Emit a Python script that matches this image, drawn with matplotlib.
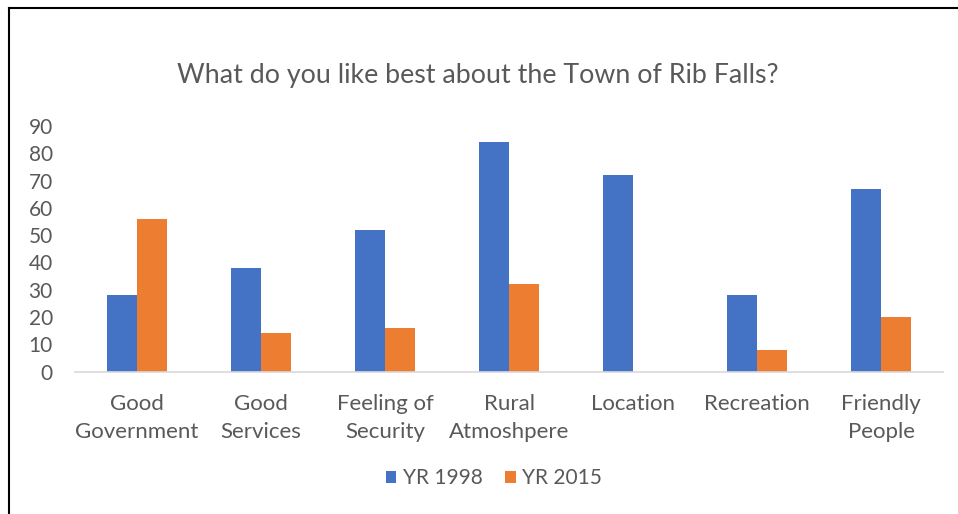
import matplotlib.pyplot as plt
from matplotlib.lines import Line2D
import numpy as np

# Data
categories = ['Good\nGovernment', 'Good\nServices', 'Feeling of\nSecurity', 'Rural\nAtmoshpere',
              'Location', 'Recreation', 'Friendly\nPeople']
yr_1998 = [28, 38, 52, 84, 72, 28, 67]
yr_2015 = [56, 14, 16, 32, 0, 8, 20]
y_ticks = [0, 10, 20, 30, 40, 50, 60, 70, 80, 90]

plt.rcParams['font.family'] = ['Lato', 'DejaVu Sans']
text_grey = '#595959'

W, H = 958, 514
fig = plt.figure(figsize=(W / 100, H / 100), dpi=100)
ax = fig.add_axes([75 / W, 142.3 / H, 868 / W, 245.7 / H])

x = np.arange(len(categories))
bw = 0.238
ax.bar(x - bw / 2, yr_1998, bw, color='#4472C4', label='YR 1998')
ax.bar(x + bw / 2, yr_2015, bw, color='#ED7D31', label='YR 2015')

ax.set_xlim(-0.5, len(categories) - 0.5)
ax.set_ylim(0, 90)
ax.set_yticks(y_ticks)
ax.set_xticks(x)
ax.set_xticklabels(categories, linespacing=1.5)
ax.tick_params(axis='y', length=0, pad=16, labelsize=15, labelcolor=text_grey)
ax.tick_params(axis='x', length=0, pad=16, labelsize=16, labelcolor=text_grey)

for side in ['top', 'right', 'left']:
    ax.spines[side].set_visible(False)
ax.spines['bottom'].set_color('#D9D9D9')
ax.spines['bottom'].set_linewidth(1.2)

fig.text(0.5 - 1 / W, 1 - 75 / H, 'What do you like best about the Town of Rib Falls?',
         ha='center', va='center', fontsize=19.3, color=text_grey)

fig.legend(loc='center', bbox_to_anchor=(494 / W, 36 / H), ncol=2, frameon=False,
           fontsize=15, labelcolor=text_grey, handlelength=0.5, handleheight=0.5,
           handletextpad=0.3, columnspacing=1.1)

# frame lines on the left and top edge
fig.add_artist(Line2D([8.5 / W, 8.5 / W], [0, 1 - 7.5 / H], color='black', linewidth=1.5))
fig.add_artist(Line2D([8.5 / W, 1], [1 - 7.5 / H, 1 - 7.5 / H], color='black', linewidth=1.5))

plt.savefig('out.png', dpi=100)
